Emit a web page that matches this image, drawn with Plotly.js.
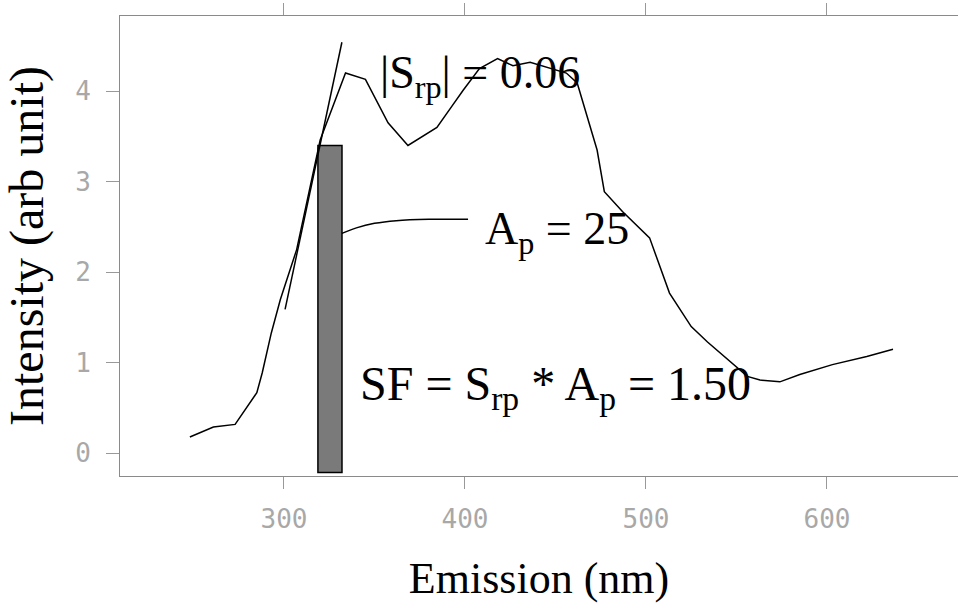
<!DOCTYPE html>
<html>
<head>
<meta charset="utf-8">
<script src="https://cdn.plot.ly/plotly-3.0.1.min.js"></script>
<style>html,body{margin:0;padding:0;background:#fff;}#chart{width:958px;height:605px;}</style>
</head>
<body>
<div id="chart"></div>
<script>
// Emission spectrum (nm, arb. unit)
const emissionNm = [248, 261, 273, 285, 288, 293, 298, 307, 320, 334, 345, 357.5, 368.5, 384.5, 393, 399, 408, 418, 426.5, 436, 456, 462, 473, 477, 487, 502, 513, 525, 534, 556, 563, 574, 585, 603, 622, 636.5];
const intensity  = [0.18, 0.29, 0.32, 0.67, 0.89, 1.33, 1.70, 2.25, 3.46, 4.20, 4.13, 3.65, 3.40, 3.60, 3.84, 4.01, 4.25, 4.36, 4.28, 4.32, 4.20, 4.09, 3.35, 2.89, 2.67, 2.38, 1.77, 1.40, 1.23, 0.85, 0.81, 0.79, 0.87, 0.98, 1.07, 1.15];

// Tangent (slope) line at the rising edge
const tangentX = [300.6, 332];
const tangentY = [1.59, 4.54];

// Peak-area bar
const barX = [325.4];
const barTop = [3.40];
const barBottom = [-0.21];
const barWidth = [13.3];

// Connector from the bar to the A_p label
const connX = [332, 340, 350, 362, 380, 401.7];
const connY = [2.43, 2.49, 2.54, 2.57, 2.585, 2.585];

// Tick labels
const xTicks = [300, 400, 500, 600];
const yTicks = [0, 1, 2, 3, 4];

// Annotation texts
const labelSrp = '|S<sub>rp</sub>| = 0.06';
const labelAp = 'A<sub>p</sub> = 25';
const labelSF = 'SF = S<sub>rp</sub> * A<sub>p</sub> = 1.50';

const serif = 'Liberation Serif, Times New Roman, serif';
const tickFont = {family: 'DejaVu Sans Mono, monospace', size: 26, color: '#a8a8a8'};

const traces = [
  {type: 'bar', x: barX, y: barTop.map((t, i) => t - barBottom[i]), base: barBottom, width: barWidth,
   marker: {color: '#7a7a7a', line: {color: '#000', width: 1.5}}, hoverinfo: 'skip', showlegend: false},
  {type: 'scatter', mode: 'lines', x: emissionNm, y: intensity,
   line: {color: '#000', width: 1.5}, showlegend: false},
  {type: 'scatter', mode: 'lines', x: tangentX, y: tangentY,
   line: {color: '#000', width: 1.5}, showlegend: false},
  {type: 'scatter', mode: 'lines', x: connX, y: connY,
   line: {color: '#000', width: 1.5, shape: 'spline'}, showlegend: false}
];

const layout = {
  width: 958, height: 605,
  margin: {l: 120, r: 0, t: 16, b: 129},
  paper_bgcolor: '#fff', plot_bgcolor: '#fff',
  showlegend: false,
  xaxis: {
    range: [209.4, 672.4], tickvals: xTicks, ticktext: xTicks.map(String),
    showgrid: false, zeroline: false,
    showline: true, linecolor: '#8a8a8a', linewidth: 1, mirror: 'ticks',
    ticks: 'outside', ticklen: 12, tickcolor: '#999', tickwidth: 1,
    tickfont: tickFont, ticklabelstandoff: 8,
    title: {text: 'Emission (nm)', font: {family: serif, size: 44, color: '#000'}, standoff: 28}
  },
  yaxis: {
    range: [-0.25, 4.83], tickvals: yTicks, ticktext: yTicks.map(String),
    showgrid: false, zeroline: false,
    showline: true, linecolor: '#8a8a8a', linewidth: 1, mirror: false,
    ticks: 'outside', ticklen: 13, tickcolor: '#999', tickwidth: 1,
    tickfont: tickFont, ticklabelstandoff: 10,
    title: {text: 'Intensity (arb unit)', font: {family: serif, size: 48, color: '#000'}, standoff: 18}
  },
  annotations: [
    {x: 351.9, y: 4.17, xref: 'x', yref: 'y', text: labelSrp, showarrow: false, xanchor: 'left', yanchor: 'middle',
     font: {family: serif, size: 46, color: '#000'}},
    {x: 410, y: 2.44, xref: 'x', yref: 'y', text: labelAp, showarrow: false, xanchor: 'left', yanchor: 'middle',
     font: {family: serif, size: 46, color: '#000'}},
    {x: 340.9, y: 0.73, xref: 'x', yref: 'y', text: labelSF, showarrow: false, xanchor: 'left', yanchor: 'middle',
     font: {family: serif, size: 48, color: '#000'}}
  ]
};

Plotly.newPlot('chart', traces, layout, {displayModeBar: false, staticPlot: true});
</script>
</body>
</html>
